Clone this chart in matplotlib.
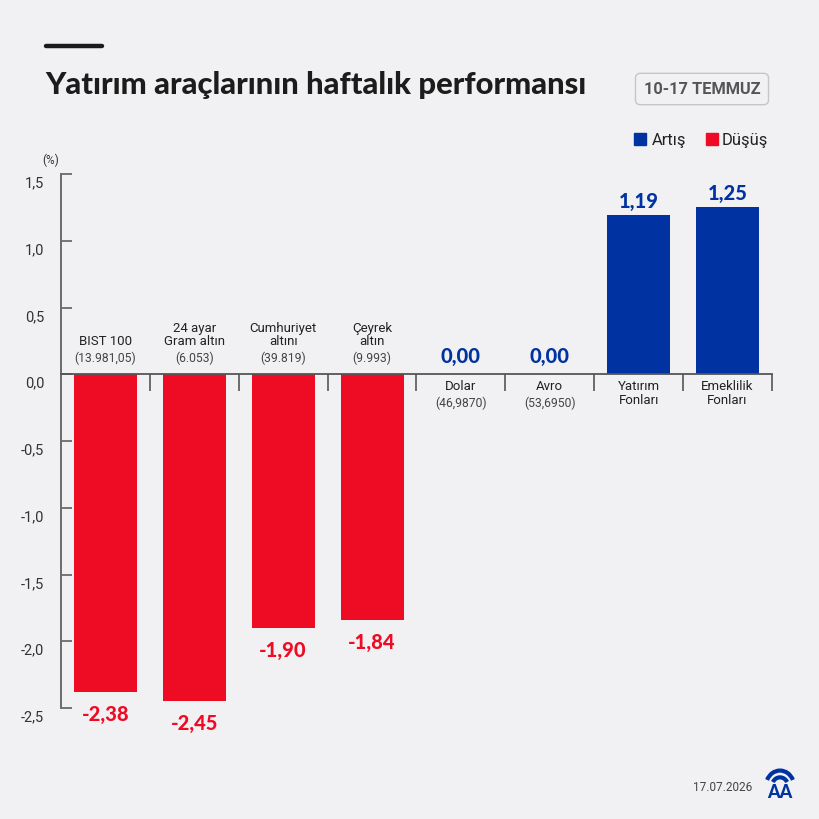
import matplotlib
matplotlib.use('Agg')
import matplotlib.pyplot as plt
import matplotlib.patches as mpatches
import matplotlib.lines as mlines
from matplotlib.transforms import ScaledTranslation
from matplotlib.ticker import FixedLocator, FuncFormatter

# data
names = ['BIST 100', '24 ayar\nGram altın', 'Cumhuriyet\naltını', 'Çeyrek\naltın',
         'Dolar', 'Avro', 'Yatırım\nFonları', 'Emeklilik\nFonları']
subs = ['(13.981,05)', '(6.053)', '(39.819)', '(9.993)',
        '(46,9870)', '(53,6950)', '', '']
values = [-2.38, -2.45, -1.90, -1.84, 0.00, 0.00, 1.19, 1.25]
yticks = [-2.5, -2.0, -1.5, -1.0, -0.5, 0.0, 0.5, 1.0, 1.5]

BG = '#F1F1F3'
RED = '#EE0B24'
BLUE = '#0033A1'
W, H = 820, 820

plt.rcParams['font.family'] = ['Roboto', 'DejaVu Sans']

fig = plt.figure(figsize=(W / 100, H / 100), dpi=100, facecolor=BG)


def fx(px):
    return px / W


def fy(py):
    return 1 - py / H


ax = fig.add_axes([fx(61), fy(709), fx(772) - fx(61), fy(175) - fy(709)])
ax.set_facecolor(BG)

xs = list(range(len(values)))
colors = [RED if v < 0 else BLUE for v in values]
ax.bar(xs, values, width=0.71, color=colors, zorder=2)

ax.set_xlim(-0.5, len(values) - 0.5)
ax.set_ylim(-2.5, 1.5)

# axes styling
for s in ['top', 'right']:
    ax.spines[s].set_visible(False)
ax.spines['left'].set_color('#6b6b6b')
ax.spines['left'].set_linewidth(1.4)
ax.spines['bottom'].set_position(('data', 0))
ax.spines['bottom'].set_color('#555555')
ax.spines['bottom'].set_linewidth(1.3)
ax.spines['bottom'].set_zorder(3)

ax.yaxis.set_major_locator(FixedLocator(yticks))
ax.yaxis.set_major_formatter(FuncFormatter(lambda v, p: ('%.1f' % v).replace('.', ',')))
ax.tick_params(axis='y', direction='in', length=8, width=1.3, color='#6b6b6b',
               pad=12, labelsize=10.5, labelcolor='#333333')
ax.set_xticks([i + 0.5 for i in xs])
ax.tick_params(axis='x', direction='out', length=12, width=1.2, color='#555555',
               labelbottom=False)

offset = ScaledTranslation(0, -7 / 100, fig.dpi_scale_trans)
for lab in ax.get_yticklabels():
    lab.set_transform(lab.get_transform() + offset)

# category and value labels
for i, (v, n, s) in enumerate(zip(values, names, subs)):
    nlines = n.count('\n') + 1
    if v < 0:
        ax.annotate(s, (i, 0), xytext=(0, 10), textcoords='offset pixels',
                    ha='center', va='bottom', fontsize=8.7, color='#444444')
        ax.annotate(n, (i, 0), xytext=(0, 27), textcoords='offset pixels',
                    ha='center', va='bottom', fontsize=9.5, color='#222222',
                    linespacing=1.05)
        ax.annotate(('%.2f' % v).replace('.', ','), (i, v), xytext=(0, -12),
                    textcoords='offset pixels', ha='center', va='top',
                    fontsize=14.5, fontweight='black', family=['Lato', 'DejaVu Sans'],
                    color=RED)
    else:
        ax.annotate(n, (i, 0), xytext=(0, -5), textcoords='offset pixels',
                    ha='center', va='top', fontsize=9.5, color='#222222',
                    linespacing=1.05)
        if s:
            ax.annotate(s, (i, 0), xytext=(0, -5 - 16 * nlines), textcoords='offset pixels',
                        ha='center', va='top', fontsize=8.7, color='#444444')
        ax.annotate(('%.2f' % v).replace('.', ','), (i, v),
                    xytext=(0, 9 if v == 0 else 5),
                    textcoords='offset pixels', ha='center', va='bottom',
                    fontsize=14.5, fontweight='black', family=['Lato', 'DejaVu Sans'],
                    color=BLUE)

# header
fig.add_artist(mlines.Line2D([fx(46), fx(102)], [fy(47), fy(47)], lw=3.2,
                             color='#1a1a1a', solid_capstyle='round'))
fig.text(fx(45), fy(85), 'Yatırım araçlarının haftalık performansı',
         fontsize=22.3, fontweight='black', family=['Lato', 'DejaVu Sans'],
         color='#1c1c1c', va='center', ha='left')
fig.text(fx(702), fy(90), '10-17 TEMMUZ', fontsize=11.8, fontweight='bold',
         color='#555555', ha='center', va='center',
         bbox=dict(boxstyle='round,pad=0.5,rounding_size=0.3', fc=BG,
                   ec='#c6c6c6', lw=1.0))

# legend
fig.add_artist(mpatches.Rectangle((fx(634), fy(146)), fx(12), fy(134) - fy(146),
                                  color=BLUE))
fig.text(fx(652), fy(140), 'Artış', fontsize=12, color='#222222', va='center')
fig.add_artist(mpatches.Rectangle((fx(706), fy(146)), fx(12), fy(134) - fy(146),
                                  color=RED))
fig.text(fx(722), fy(140), 'Düşüş', fontsize=12, color='#222222', va='center')

fig.text(fx(51), fy(160), '(%)', fontsize=8.5, color='#333333', ha='center', va='center')

# footer
fig.text(fx(752), fy(788), '17.07.2026', fontsize=8.5, color='#444444',
         ha='right', va='center')
lax = fig.add_axes([fx(765), fy(802), fx(30), fy(768) - fy(802)])
lax.set_xlim(0, 1)
lax.set_ylim(0, 1)
lax.axis('off')
lax.add_patch(mpatches.Arc((0.5, 0.42), 0.95, 0.95, theta1=25, theta2=155,
                           lw=3, color=BLUE))
lax.add_patch(mpatches.Arc((0.5, 0.42), 0.55, 0.55, theta1=30, theta2=150,
                           lw=3, color=BLUE))
lax.text(0.5, 0.28, 'AA', fontsize=13, fontweight='black', color=BLUE,
         family=['Lato', 'DejaVu Sans'], ha='center', va='center')

fig.savefig('out.png', dpi=100, facecolor=BG)
